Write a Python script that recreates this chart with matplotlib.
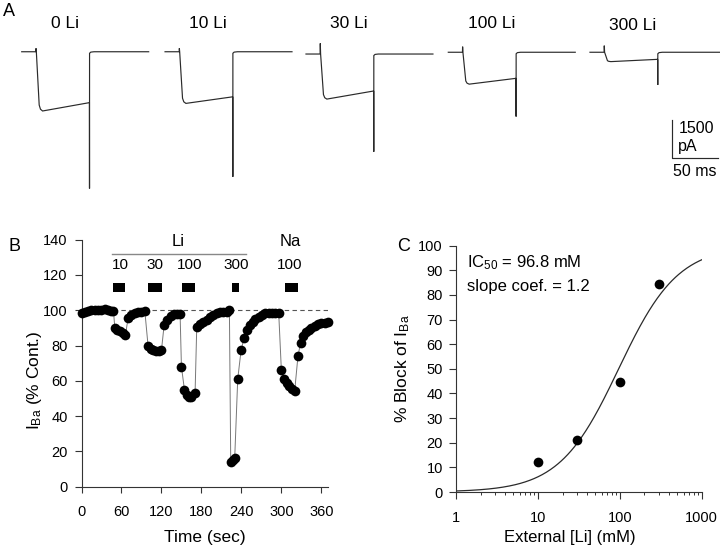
import numpy as np
import matplotlib
matplotlib.use("Agg")
import matplotlib.pyplot as plt
from matplotlib.patches import Rectangle

plt.rcParams['font.family'] = ['Liberation Sans', 'DejaVu Sans']
plt.rcParams['mathtext.fontset'] = 'custom'
plt.rcParams['mathtext.rm'] = 'Liberation Sans'
plt.rcParams['mathtext.it'] = 'Liberation Sans:italic'
plt.rcParams['mathtext.bf'] = 'Liberation Sans:bold'

# ---------------- Panel A data (current traces) ----------------
trace_names = ['0 Li', '10 Li', '30 Li', '100 Li', '300 Li']
trace_start_ms = [23.6, 179.4, 332.6, 487.3, 641.3]
trace_len_ms = [138, 138, 138, 138, 141]
baseline_pA = [10, 10, -80, -10, -10]
onset_tick_pA = [135, 135, 420, 220, 260]
peak_pA = [-2340, -2040, -1780, -1260, -370]
pulse_end_pA = [-2010, -1780, -1460, -1030, -280]
tail_pA = [-5400, -4940, -3860, -2540, -1290]
onset_ms = 15.4
offset_ms = 73.6
scale_pA = 1500
scale_ms = 50

# ---------------- Panel B data (time course) ----------------
time_s = [0, 5, 10, 15, 20, 25, 30, 35, 40, 45, 48,
          50, 54, 58, 62, 66,
          70, 75, 80, 85, 90, 95,
          100, 104, 108, 112, 116, 120,
          124, 129, 134, 139, 144, 148,
          150, 154.5, 158, 161.5, 165, 170.5,
          173, 178, 183, 188, 193, 198, 203, 208, 213, 218, 222,
          224, 227, 230,
          234.5, 239.5, 244, 249, 253, 257, 261, 266, 271, 276, 281, 286, 291, 296,
          300, 304, 308, 312, 316, 320,
          325, 329, 333, 337, 341, 345, 350, 355, 360, 365, 370]
iba_pct = [98.3, 99.2, 99.6, 100.0, 100.2, 100.0, 100.2, 100.6, 100.2, 99.8, 99.6,
           90.0, 89.0, 88.0, 87.0, 86.0,
           95.8, 97.2, 98.2, 98.9, 99.3, 99.8,
           79.5, 78.0, 77.3, 77.0, 77.0, 77.3,
           91.5, 94.3, 96.5, 97.7, 98.0, 97.8,
           68.0, 55.0, 52.0, 51.0, 50.8, 53.3,
           90.7, 92.0, 93.2, 94.5, 96.0, 97.3, 98.3, 99.2, 99.2, 98.9, 100.2,
           13.8, 15.0, 16.5,
           61.0, 77.2, 84.5, 88.8, 91.6, 93.5, 94.8, 96.3, 97.6, 98.2, 98.6, 98.6, 98.7, 98.6,
           66.0, 61.2, 59.0, 57.2, 55.6, 54.4,
           74.3, 81.7, 85.4, 87.5, 88.8, 90.2, 91.3, 92.2, 92.6, 93.0, 93.2]
bar_start_s = [47, 100, 150.6, 226, 305]
bar_end_s = [66, 121, 170.6, 237, 325]
bar_labels = ['10', '30', '100', '300', '100']
bar_label_x = [59, 110, 161.6, 232, 312.7]
ion_labels = ['Li', 'Na']
ion_label_x = [145.6, 312.7]
li_bracket = [46, 247]

# ---------------- Panel C data (dose response) ----------------
li_mM = [10, 30, 100, 300]
block_pct = [12.2, 21.2, 44.7, 84.3]
ic50_mM = 96.8
hill_n = 1.2

fig = plt.figure(figsize=(7.2, 5.46), dpi=100)
W, H = 720.0, 546.0

# ---------------- Panel A ----------------
MS_PER_PX = 1.087
PA_PER_PX = 39.5
axA = fig.add_axes([0, 1 - 200 / H, 1, 200 / H])
axA.set_xlim(0, W * MS_PER_PX)
axA.set_ylim(-148 * PA_PER_PX, 52 * PA_PER_PX)
axA.axis('off')
tc = '#2a2a2a'
for i in range(len(trace_names)):
    s = trace_start_ms[i]
    b = baseline_pA[i]
    on = s + onset_ms
    off = s + offset_ms
    pk = peak_pA[i]
    tx = [s, on, on + 0.15, on + 0.5, on + 3.6, on + 5.0, on + 7.3,
          off, off + 0.1, off + 0.15, off + 1.5, off + 5.0, s + trace_len_ms[i]]
    ty = [b, b, b + onset_tick_pA[i], b, b + 0.9 * pk, b + 0.97 * pk, b + pk,
          b + pulse_end_pA[i], b + tail_pA[i], b - 60, b - 15, b, b]
    axA.plot(tx, ty, color=tc, lw=0.85, solid_joinstyle='miter')
    ly = 1134 if i < 4 else 1039
    axA.text(s + 46.7, ly, trace_names[i], ha='center', va='center', fontsize=12.5)
sb_x = 671.7 * MS_PER_PX
sb_y = (52 - 158.3) * PA_PER_PX
axA.plot([sb_x, sb_x, sb_x + scale_ms], [sb_y + scale_pA, sb_y, sb_y], color=tc, lw=0.85)
axA.text(sb_x + 7.3, (52 - 128.3) * PA_PER_PX, '%d' % scale_pA, ha='left', va='center', fontsize=11.5)
axA.text(sb_x + 7.3, (52 - 146.7) * PA_PER_PX, 'pA', ha='left', va='center', fontsize=11.5)
axA.text(sb_x + 1.1, (52 - 171.7) * PA_PER_PX, '%d ms' % scale_ms, ha='left', va='center', fontsize=11.5)

# ---------------- Panel B ----------------
axB = fig.add_axes([81.5 / W, (H - 486.7) / H, (328 - 81.5) / W, (486.7 - 239.7) / H])
axB.set_xlim(0, 370)
axB.set_ylim(0, 140)
axB.plot([0, 370], [100, 100], color='#555555', lw=0.8, ls=(0, (4, 3)), zorder=1)
axB.plot(time_s, iba_pct, color='#777777', lw=0.7, zorder=2)
axB.plot(time_s, iba_pct, 'o', color='k', ms=7, mew=0, zorder=3, clip_on=False)
for s0, s1 in zip(bar_start_s, bar_end_s):
    axB.add_patch(Rectangle((s0, 110.5), s1 - s0, 4.8, color='k', lw=0))
for lab, x in zip(bar_labels, bar_label_x):
    axB.text(x, 125.7, lab, ha='center', va='center', fontsize=11)
for lab, x in zip(ion_labels, ion_label_x):
    axB.text(x, 139.0, lab, ha='center', va='center', fontsize=12)
axB.plot(li_bracket, [132, 132], color='#888888', lw=1.0, clip_on=False)
axB.set_xticks(np.arange(0, 361, 60))
axB.set_yticks(np.arange(0, 141, 20))
for sp in ['top', 'right']:
    axB.spines[sp].set_visible(False)
for sp in ['left', 'bottom']:
    axB.spines[sp].set_color('#333333')
    axB.spines[sp].set_linewidth(0.8)
axB.tick_params(axis='x', direction='out', length=4, width=0.8, color='#333333', labelsize=10.5, pad=9)
axB.tick_params(axis='y', direction='out', length=5, width=0.8, color='#333333', labelsize=10.5, pad=5)
axB.set_xlabel('Time (sec)', fontsize=12.5)
axB.xaxis.set_label_coords(0.5, -0.175)
axB.set_ylabel(r'$\mathregular{I_{Ba}}$ (% Cont.)', fontsize=12.5)
axB.yaxis.set_label_coords(-0.152, 0.43)

# ---------------- Panel C ----------------
axC = fig.add_axes([456 / W, (H - 492) / H, (701.7 - 456) / W, (492 - 245.7) / H])
axC.set_xscale('log')
axC.set_xlim(1, 1000)
axC.set_ylim(0, 100)
xc = np.logspace(0, 3, 300)
yc = 100 * xc ** hill_n / (xc ** hill_n + ic50_mM ** hill_n)
axC.plot(xc, yc, color='#2a2a2a', lw=0.9)
axC.plot(li_mM, block_pct, 'o', color='k', ms=7, mew=0, zorder=3)
axC.set_yticks(np.arange(0, 101, 10))
axC.set_xticks([1, 10, 100, 1000])
axC.set_xticklabels(['1', '10', '100', '1000'])
for sp in ['top', 'right']:
    axC.spines[sp].set_visible(False)
for sp in ['left', 'bottom']:
    axC.spines[sp].set_color('#333333')
    axC.spines[sp].set_linewidth(0.8)
axC.tick_params(axis='x', which='major', direction='out', length=5, width=0.8, color='#333333', labelsize=10.5, pad=9)
axC.tick_params(axis='x', which='minor', direction='out', length=2.5, width=0.7, color='#333333')
axC.tick_params(axis='y', direction='out', length=5, width=0.8, color='#333333', labelsize=10.5, pad=4.5)
axC.set_xlabel('External [Li] (mM)', fontsize=12)
axC.xaxis.set_label_coords(0.465, -0.154)
axC.set_ylabel(r'% Block of $\mathregular{I_{Ba}}$', fontsize=12.5)
axC.yaxis.set_label_coords(-0.179, 0.5)
axC.text(0.044, 0.93, r'IC$\mathregular{_{50}}$ = 96.8 mM', transform=axC.transAxes, ha='left', va='center', fontsize=12)
axC.text(0.044, 0.836, 'slope coef. = 1.2', transform=axC.transAxes, ha='left', va='center', fontsize=12)

# Panel letters
fig.text(3 / W, 1 - 11 / H, 'A', ha='left', va='center', fontsize=13)
fig.text(8 / W, 1 - 247 / H, 'B', ha='left', va='center', fontsize=13)
fig.text(397 / W, 1 - 247 / H, 'C', ha='left', va='center', fontsize=13)

fig.savefig('out.png', dpi=100)
